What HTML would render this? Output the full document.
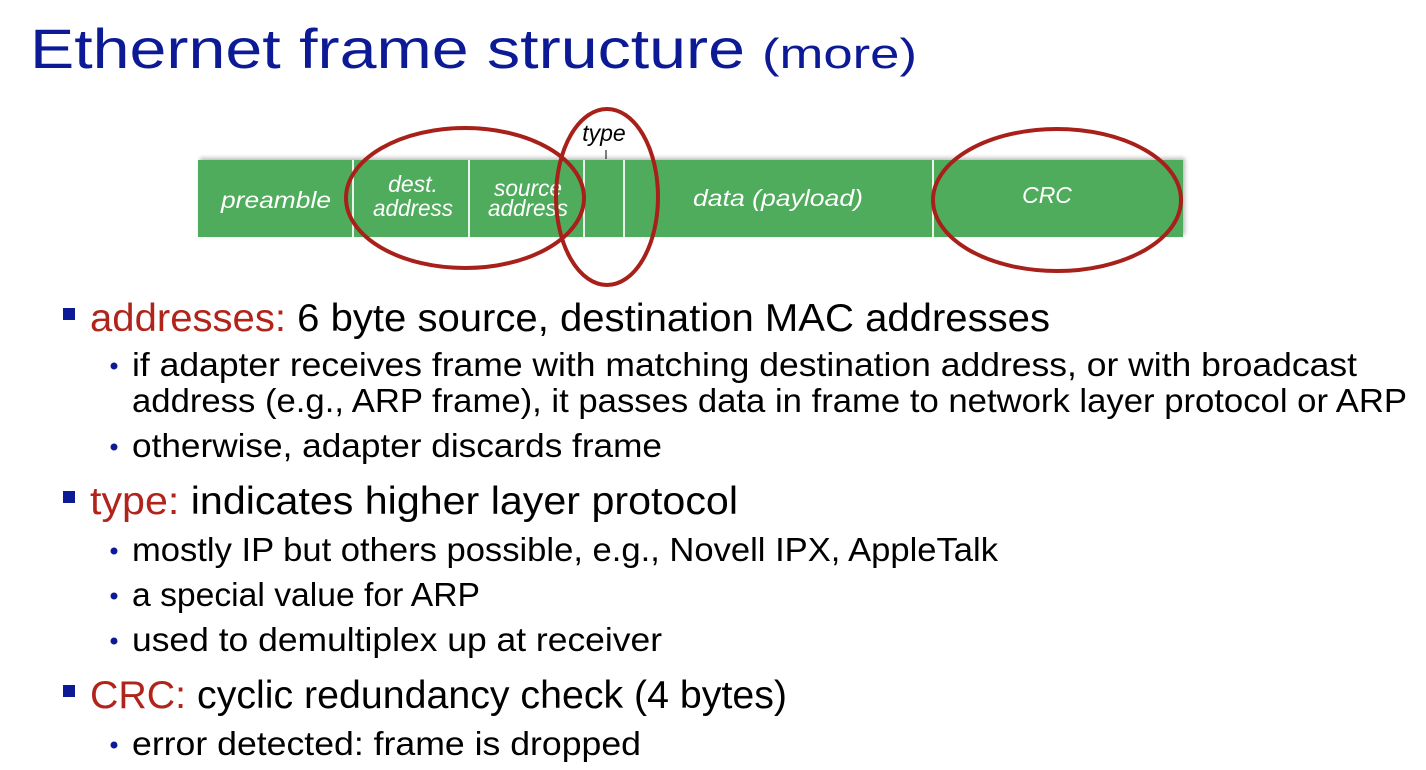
<!DOCTYPE html>
<html><head><meta charset="utf-8"><style>
html,body{margin:0;padding:0;background:#fff;width:1426px;height:770px;overflow:hidden}
svg{display:block}
text{font-family:"Liberation Sans",sans-serif}
</style></head><body>
<svg width="1426" height="770" viewBox="0 0 1426 770" xmlns="http://www.w3.org/2000/svg">
<defs><filter id="sh" x="-5%" y="-20%" width="110%" height="140%"><feDropShadow dx="2" dy="-2" stdDeviation="2" flood-color="#888" flood-opacity="0.6"/></filter></defs>
<text x="30" y="68" font-size="56" fill="#0d1a96" textLength="715" lengthAdjust="spacingAndGlyphs">Ethernet frame structure</text>
<text x="762" y="68" font-size="42" fill="#0d1a96" textLength="155" lengthAdjust="spacingAndGlyphs">(more)</text>

<rect x="198" y="160" width="985" height="77" fill="#50ac5c" filter="url(#sh)"/>
<g stroke="#e8f4ea" stroke-width="2">
<line x1="353" y1="160" x2="353" y2="237"/><line x1="469" y1="160" x2="469" y2="237"/>
<line x1="584" y1="160" x2="584" y2="237"/><line x1="624" y1="160" x2="624" y2="237"/>
<line x1="933" y1="160" x2="933" y2="237"/>
</g>
<g fill="#fff" font-style="italic" font-size="23" text-anchor="middle">
<text x="276" y="208" textLength="110" lengthAdjust="spacingAndGlyphs">preamble</text>
<text x="413" y="192">dest.</text><text x="413" y="216" textLength="80" lengthAdjust="spacingAndGlyphs">address</text>
<text x="528" y="196" textLength="68" lengthAdjust="spacingAndGlyphs">source</text><text x="528" y="216" textLength="80" lengthAdjust="spacingAndGlyphs">address</text>
<text x="778" y="206" textLength="170" lengthAdjust="spacingAndGlyphs">data (payload)</text>
<text x="1047" y="203">CRC</text>
</g>
<text x="604" y="141" font-size="23" font-style="italic" text-anchor="middle">type</text>
<line x1="606" y1="150" x2="606" y2="159" stroke="#000" stroke-width="1"/>
<g fill="none" stroke="#a8201a" stroke-width="4">
<ellipse cx="465" cy="198" rx="119" ry="70"/>
<ellipse cx="607" cy="197" rx="51" ry="88"/>
<ellipse cx="1057" cy="200" rx="124" ry="71"/>
</g>

<g fill="#0d1a96">
<rect x="63" y="308" width="12" height="12"/><rect x="63" y="491" width="12" height="12"/><rect x="63" y="685" width="12" height="12"/>
<circle cx="114" cy="366" r="3.5"/><circle cx="114" cy="447" r="3.5"/>
<circle cx="114" cy="551" r="3.5"/><circle cx="114" cy="596" r="3.5"/><circle cx="114" cy="641" r="3.5"/>
<circle cx="114" cy="745" r="3.5"/>
</g>
<g font-size="39">
<text x="90" y="331" textLength="960" lengthAdjust="spacingAndGlyphs"><tspan fill="#b0241c">addresses:</tspan> 6 byte source, destination MAC addresses</text>
<text x="90" y="514" textLength="648" lengthAdjust="spacingAndGlyphs"><tspan fill="#b0241c">type:</tspan> indicates higher layer protocol</text>
<text x="90" y="708" textLength="697" lengthAdjust="spacingAndGlyphs"><tspan fill="#b0241c">CRC:</tspan> cyclic redundancy check (4 bytes)</text>
</g>
<g font-size="33">
<text x="132" y="376" textLength="1225" lengthAdjust="spacingAndGlyphs">if adapter receives frame with matching destination address, or with broadcast</text>
<text x="132" y="412" textLength="1275" lengthAdjust="spacingAndGlyphs">address (e.g., ARP frame), it passes data in frame to network layer protocol or ARP</text>
<text x="132" y="457" textLength="530" lengthAdjust="spacingAndGlyphs">otherwise, adapter discards frame</text>
<text x="132" y="561" textLength="866" lengthAdjust="spacingAndGlyphs">mostly IP but others possible, e.g., Novell IPX, AppleTalk</text>
<text x="132" y="606" textLength="348" lengthAdjust="spacingAndGlyphs">a special value for ARP</text>
<text x="132" y="651" textLength="530" lengthAdjust="spacingAndGlyphs">used to demultiplex up at receiver</text>
<text x="132" y="755" textLength="509" lengthAdjust="spacingAndGlyphs">error detected: frame is dropped</text>
</g>
</svg>
</body></html>
